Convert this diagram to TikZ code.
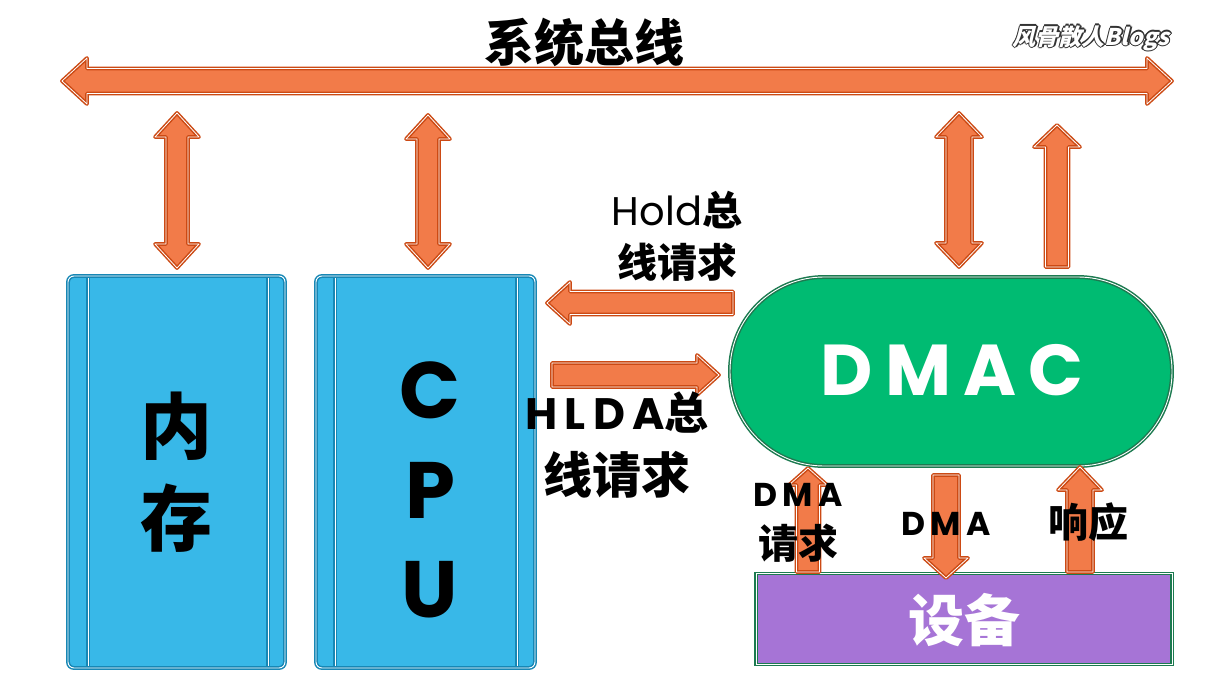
\documentclass[tikz,border=0pt]{standalone}
\usepackage{fontspec}
\setmainfont{Poppins}
\newfontfamily\cjk{Noto Sans CJK SC}
\newfontfamily\wmfont{Noto Sans CJK SC}[FakeSlant=0.25]
\definecolor{orfill}{HTML}{F27B49}
\definecolor{orline}{HTML}{CC4A14}
\definecolor{bluefill}{HTML}{38B8E8}
\definecolor{blueline}{HTML}{1787B5}
\definecolor{greenfill}{HTML}{00BB72}
\definecolor{greenline}{HTML}{1C7A50}
\definecolor{purplefill}{HTML}{A674D6}
\definecolor{wmline}{HTML}{333333}
\tikzset{
  blk/.style={fill=orfill, draw=orline, line width=1.5pt, double=white, double distance=0.8pt, line join=round},
  bluebox/.style={rectangle, rounded corners=6pt, fill=bluefill, draw=blueline, line width=1.5pt, double=white, double distance=0.9pt, inner sep=0pt},
  innerline/.style={draw=blueline, line width=1.4pt, double=white, double distance=0.7pt},
  lbl/.style={inner sep=0pt, text=black, align=center},
}
% double horizontal: y, xl, xr, s, h, L
\newcommand\dblH[6]{\path[blk] (#2,#1) -- ({#2+#6},{#1-#5}) -- ({#2+#6},{#1-#4}) -- ({#3-#6},{#1-#4}) -- ({#3-#6},{#1-#5}) -- (#3,#1) -- ({#3-#6},{#1+#5}) -- ({#3-#6},{#1+#4}) -- ({#2+#6},{#1+#4}) -- ({#2+#6},{#1+#5}) -- cycle;}
% double vertical: x, yt, yb, s, h, L
\newcommand\dblV[6]{\path[blk] (#1,#2) -- ({#1+#5},{#2+#6}) -- ({#1+#4},{#2+#6}) -- ({#1+#4},{#3-#6}) -- ({#1+#5},{#3-#6}) -- (#1,#3) -- ({#1-#5},{#3-#6}) -- ({#1-#4},{#3-#6}) -- ({#1-#4},{#2+#6}) -- ({#1-#5},{#2+#6}) -- cycle;}
% left: y, xtip, xtail, s, h, L
\newcommand\arrL[6]{\path[blk] (#2,#1) -- ({#2+#6},{#1-#5}) -- ({#2+#6},{#1-#4}) -- (#3,{#1-#4}) -- (#3,{#1+#4}) -- ({#2+#6},{#1+#4}) -- ({#2+#6},{#1+#5}) -- cycle;}
% right: y, xtail, xtip, s, h, L
\newcommand\arrR[6]{\path[blk] (#3,#1) -- ({#3-#6},{#1-#5}) -- ({#3-#6},{#1-#4}) -- (#2,{#1-#4}) -- (#2,{#1+#4}) -- ({#3-#6},{#1+#4}) -- ({#3-#6},{#1+#5}) -- cycle;}
% up: x, ytip, ytail, s, h, L
\newcommand\arrU[6]{\path[blk] (#1,#2) -- ({#1+#5},{#2+#6}) -- ({#1+#4},{#2+#6}) -- ({#1+#4},#3) -- ({#1-#4},#3) -- ({#1-#4},{#2+#6}) -- ({#1-#5},{#2+#6}) -- cycle;}
% down: x, ytail, ytip, s, h, L
\newcommand\arrD[6]{\path[blk] (#1,#3) -- ({#1+#5},{#3-#6}) -- ({#1+#4},{#3-#6}) -- ({#1+#4},#2) -- ({#1-#4},#2) -- ({#1-#4},{#3-#6}) -- ({#1-#5},{#3-#6}) -- cycle;}
\begin{document}
\begin{tikzpicture}[x=1pt,y=-1pt]
\useasboundingbox[fill=white] (0,0) rectangle (1216,699);

% title
\node[lbl, font=\cjk\bfseries\fontsize{50}{56}\selectfont] (title) at (584,42) {系统总线};
% watermark
\foreach \dx/\dy in {-1.2/0,1.2/0,0/-1.2,0/1.2,-0.9/-0.9,0.9/0.9,-0.9/0.9,0.9/-0.9}
  \node[inner sep=0pt, text=wmline, font=\wmfont\bfseries\fontsize{23}{26}\selectfont] at ({1091+\dx},{38+\dy}) {风骨散人Blogs};
\node[inner sep=0pt, text=white, font=\wmfont\bfseries\fontsize{23}{26}\selectfont] (wm) at (1091,38) {风骨散人Blogs};

% system bus
\dblH{81}{62}{1172}{12.5}{23}{25}
% vertical arrows to bus
\dblV{177}{113}{268}{11}{22}{24}
\dblV{428}{115}{268}{11}{22}{24}
\dblV{959}{113}{267}{13}{23}{24}
\arrU{1057}{125}{267}{11.5}{23}{22}

% memory box
\node[bluebox, minimum width=217pt, minimum height=392pt] (mem) at (176.5,472) {};
\draw[innerline] (88,278) -- (88,666);
\draw[innerline] (268,278) -- (268,666);
\node[lbl, font=\cjk\bfseries\fontsize{72}{80}\selectfont] (memtxt) at (mem.center) {内\\[12pt]存};

% CPU box
\node[bluebox, minimum width=219pt, minimum height=392pt] (cpu) at (425.5,472) {};
\draw[innerline] (335,278) -- (335,666);
\draw[innerline] (517,278) -- (517,666);
\node[lbl, font=\bfseries\fontsize{80}{100}\selectfont] (c) at (430,390) {C};
\node[lbl, font=\bfseries\fontsize{80}{100}\selectfont] (p) at (430,490) {P};
\node[lbl, font=\bfseries\fontsize{80}{100}\selectfont] (u) at (430,590) {U};

% DMAC
\node[rectangle, rounded corners=94pt, minimum width=442pt, minimum height=189pt, fill=greenfill, draw=greenline, line width=1.5pt, double=white, double distance=0.9pt, inner sep=0pt] (dmac) at (951,371.5) {};
\node[lbl, text=white, font=\bfseries\fontsize{72}{80}\selectfont] (dmactxt) at (952,370) {D\,M\,A\,C};

% device
\node[rectangle, minimum width=416pt, minimum height=91pt, fill=purplefill, draw=greenline, line width=1.5pt, double=white, double distance=0.9pt, inner sep=0pt] (dev) at (964,619) {};
\node[lbl, text=white, font=\cjk\bfseries\fontsize{56}{60}\selectfont] (devtxt) at (964,620) {设备};

% hold / hlda arrows
\arrL{303}{547}{733}{11.5}{21}{23}
\arrR{375}{552}{719}{12}{20}{22}
\node[lbl, font=\fontsize{40}{52}\selectfont] (hold) at (677,236) {Hold{\cjk\bfseries 总}\\{\cjk\bfseries 线请求}};
\node[lbl, font=\bfseries\fontsize{44}{64}\selectfont] (hlda) at (617,445) {H\,L\,D\,A{\cjk 总}\\{\cjk\fontsize{49}{64}\selectfont 线请求}};

% DMAC <-> device arrows
\arrU{808}{468}{572}{11.5}{19}{17}
\arrD{946}{475}{578}{13}{22}{20}
\arrU{1080}{467}{572}{13}{22}{23}
\node[lbl, font=\bfseries\fontsize{33}{52}\selectfont] (dmareq) at (798,523) {D\,M\,A\\{\cjk\fontsize{40}{52}\selectfont 请求}};
\node[lbl, font=\bfseries\fontsize{33}{40}\selectfont] (dma) at (946,524) {D\,M\,A};
\node[lbl, font=\cjk\bfseries\fontsize{40}{40}\selectfont] (ack) at (1088,522) {响应};
\end{tikzpicture}
\end{document}
